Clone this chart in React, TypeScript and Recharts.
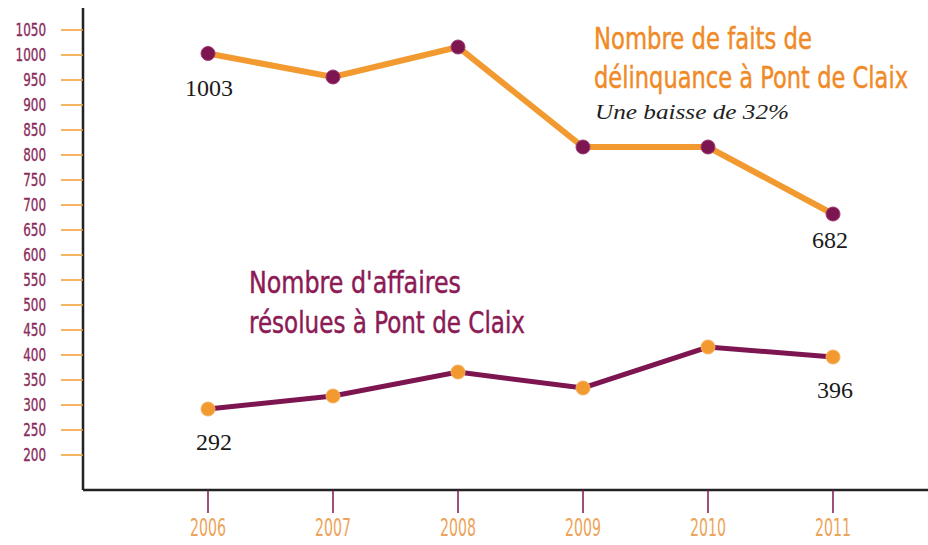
import { LineChart, Line, XAxis, YAxis } from 'recharts';

const years = [2006, 2007, 2008, 2009, 2010, 2011];
const faits = [1003, 956, 1016, 816, 816, 682];
const affaires = [292, 318, 366, 334, 416, 396];
const yTicks = [200, 250, 300, 350, 400, 450, 500, 550, 600, 650, 700, 750, 800, 850, 900, 950, 1000, 1050];

const ORANGE = '#f29a30';
const PURPLE = '#7d1650';
const NARROW = "'DejaVu Sans Condensed', 'Liberation Sans Narrow', sans-serif";
const SERIF = "'Liberation Serif', 'DejaVu Serif', serif";

const data = years.map((year, i) => ({ year, faits: faits[i], affaires: affaires[i] }));

// offsets of the end labels (first and last point)
const faitsOffsets: Record<number, [number, number]> = { 0: [1, 42], 5: [-3, 34] };
const affairesOffsets: Record<number, [number, number]> = { 0: [6, 41], 5: [2, 41] };

function endLabel(offsets: Record<number, [number, number]>) {
  return (props: any) => {
    const { x, y, index, value } = props;
    const off = offsets[index];
    if (!off) return null;
    return (
      <text
        key={`l-${index}`}
        x={x + off[0]}
        y={y + off[1]}
        textAnchor="middle"
        fontFamily={SERIF}
        fontSize={24}
        fill="#1a1a1a"
      >
        {value}
      </text>
    );
  };
}

function YTick(props: any) {
  const { x, y, payload } = props;
  const s = String(payload.value);
  return (
    <text
      x={x}
      y={y + 6}
      textAnchor="end"
      fontFamily={NARROW}
      fontSize={17}
      fill="#8a2a5c"
      stroke="#8a2a5c"
      strokeWidth={0.3}
      textLength={s.length * 7.6}
      lengthAdjust="spacingAndGlyphs"
    >
      {s}
    </text>
  );
}

function XTick(props: any) {
  const { x, y, payload } = props;
  return (
    <text
      x={x}
      y={y + 19}
      textAnchor="middle"
      fontFamily={NARROW}
      fontSize={24}
      fill="#eca45a"
      textLength={36}
      lengthAdjust="spacingAndGlyphs"
    >
      {payload.value}
    </text>
  );
}

// condensed title line: natural size kept small, stretched vertically
function Title({ x, y, w, color, children }: { x: number; y: number; w: number; color: string; children: string }) {
  return (
    <text
      transform={`translate(${x},${y}) scale(1,1.26)`}
      fontFamily={NARROW}
      fontSize={24.5}
      fill={color}
      stroke={color}
      strokeWidth={0.35}
      textLength={w}
      lengthAdjust="spacingAndGlyphs"
    >
      {children}
    </text>
  );
}

export default function App() {
  return (
    <div style={{ position: 'absolute', left: 0, top: 0, width: 928, height: 545, background: '#fff' }}>
      <LineChart
        width={928}
        height={545}
        data={data}
        margin={{ top: 8, right: 0, left: 0, bottom: 0 }}
      >
        <XAxis
          dataKey="year"
          type="number"
          domain={[2005, 2011.76]}
          ticks={years}
          height={55}
          tickSize={23}
          tickMargin={4}
          axisLine={{ stroke: '#222', strokeWidth: 2.5 }}
          tickLine={{ stroke: PURPLE, strokeWidth: 1.5 }}
          tick={<XTick />}
        />
        <YAxis
          type="number"
          domain={[130, 1094]}
          ticks={yTicks}
          width={83}
          tickSize={22}
          tickMargin={15}
          interval={0}
          allowDataOverflow
          axisLine={{ stroke: '#222', strokeWidth: 2.5 }}
          tickLine={{ stroke: ORANGE, strokeWidth: 1.5 }}
          tick={<YTick />}
        />
        <Line
          dataKey="faits"
          stroke={ORANGE}
          strokeWidth={6}
          isAnimationActive={false}
          dot={{ r: 7, fill: PURPLE, stroke: '#9a3a70', strokeWidth: 1 }}
          activeDot={false}
          label={endLabel(faitsOffsets)}
        />
        <Line
          dataKey="affaires"
          stroke={PURPLE}
          strokeWidth={5}
          isAnimationActive={false}
          dot={{ r: 7, fill: ORANGE, stroke: '#f5b060', strokeWidth: 1 }}
          activeDot={false}
          label={endLabel(affairesOffsets)}
        />
      </LineChart>
      <svg
        width={928}
        height={545}
        style={{ position: 'absolute', left: 0, top: 0, pointerEvents: 'none' }}
      >
        <Title x={594} y={49} w={218} color="#f08a26">Nombre de faits de</Title>
        <Title x={594} y={88} w={314} color="#f08a26">délinquance à Pont de Claix</Title>
        <text x={595} y={119} fontFamily={SERIF} fontStyle="italic" fontSize={22} fill="#222" textLength={194} lengthAdjust="spacingAndGlyphs">
          Une baisse de 32%
        </text>
        <Title x={249} y={293} w={212} color="#8c1a55">Nombre d'affaires</Title>
        <Title x={249} y={333} w={276} color="#8c1a55">résolues à Pont de Claix</Title>
      </svg>
    </div>
  );
}
